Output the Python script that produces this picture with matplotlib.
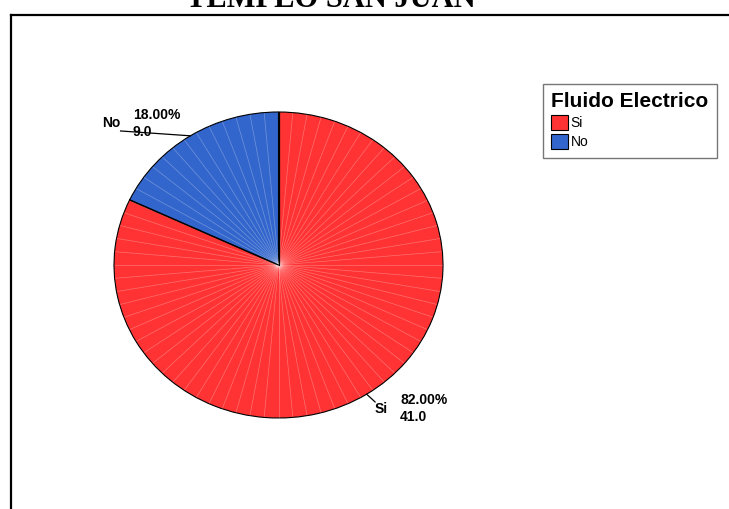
import numpy as np
import matplotlib
matplotlib.use("Agg")
import matplotlib.pyplot as plt
from matplotlib.patches import Patch
from matplotlib.lines import Line2D

# data
categories = ["Si", "No"]
counts = [41.0, 9.0]
percents = [82.00, 18.00]
colors = ["#FF3333", "#3366CC"]
title = "TEMPLO SAN JUAN"
legend_title = "Fluido Electrico"

W, H = 729, 509
fig = plt.figure(figsize=(W / 100, H / 100), dpi=100)


def px(x, y):
    # pixel -> figure fraction
    return x / W, 1 - y / H


# pie axes: ellipse spanning x 114..443, y 112..418 px
x0, y0 = px(114, 418)
x1, y1 = px(443, 112)
ax = fig.add_axes([x0, y0, x1 - x0, y1 - y0])
wedges, _ = ax.pie(counts, colors=colors, startangle=90, counterclock=False,
                   radius=1, wedgeprops=dict(edgecolor="black", linewidth=0.8))
ax.set_aspect("auto")
ax.set_xlim(-1, 1)
ax.set_ylim(-1, 1)
ax.axis("off")

# faint white radial hatch lines (SPSS style)
for a in np.arange(90, 90 - 360, -5.0):
    t = np.deg2rad(a)
    ax.plot([0, 0.995 * np.cos(t)], [0, 0.995 * np.sin(t)], color="white",
            lw=0.5, alpha=0.3, zorder=2)
# redraw the wedge borders on top
ax.plot([0, 0], [0, 1], color="black", lw=0.9, zorder=3)
b = np.deg2rad(90 + percents[1] / 100 * 360)
ax.plot([0, np.cos(b)], [0, np.sin(b)], color="black", lw=0.9, zorder=3)

# labels with leader lines from mid-angle of each wedge
fsz = 10
cum = 0
for name, cnt, pct in zip(categories, counts, percents):
    mid = 90 - (cum + pct / 2) / 100 * 360
    cum += pct
    t = np.deg2rad(mid)
    ex, ey = np.cos(t), np.sin(t)
    if name == "Si":
        ax.plot([ex, 0.587], [ey, -0.895], color="black", lw=0.9, clip_on=False)
        ax.text(0.624, -0.94, name, ha="center", va="center", fontsize=fsz,
                fontweight="bold", family="Liberation Sans")
        ax.text(0.739, -0.885, f"{pct:.2f}%", ha="left", va="center",
                fontsize=fsz, fontweight="bold", family="Liberation Sans")
        ax.text(0.739, -0.995, f"{cnt:.1f}", ha="left", va="center",
                fontsize=fsz, fontweight="bold", family="Liberation Sans")
    else:
        ax.plot([ex, -0.96], [ey, 0.876], color="black", lw=0.9, clip_on=False)
        ax.text(-1.015, 0.925, name, ha="center", va="center", fontsize=fsz,
                fontweight="bold", family="Liberation Sans")
        ax.text(-0.885, 0.983, f"{pct:.2f}%", ha="left", va="center",
                fontsize=fsz, fontweight="bold", family="Liberation Sans")
        ax.text(-0.885, 0.872, f"{cnt:.1f}", ha="left", va="center",
                fontsize=fsz, fontweight="bold", family="Liberation Sans")

# outer frame (cropped at right/bottom)
fx, fy = px(11, 15)
fig.add_artist(Line2D([fx, fx], [0, fy], color="black", lw=1.6,
                      transform=fig.transFigure))
fig.add_artist(Line2D([fx, 1], [fy, fy], color="black", lw=1.6,
                      transform=fig.transFigure))

# title, mostly cut off at the top (as in the source image)
tx, ty = px(331, 7)
fig.text(tx, ty, title, ha="center", va="baseline", fontsize=22,
         fontweight="bold", family="Liberation Serif")

# legend
handles = [Patch(facecolor=c, edgecolor="black", linewidth=0.8) for c in colors]
lx, ly = px(543, 84)
leg = fig.legend(handles, categories, loc="upper left", bbox_to_anchor=(lx, ly),
                 title=legend_title, frameon=True, fancybox=False,
                 prop=dict(family="Liberation Sans", size=10),
                 title_fontproperties=dict(family="Liberation Sans", size=15,
                                           weight="bold"),
                 handlelength=1.2, handleheight=1.2, handletextpad=0.2,
                 labelspacing=0.3, borderpad=0.6, borderaxespad=0)
leg._legend_box.align = "left"
leg.get_frame().set_edgecolor("#555555")
leg.get_frame().set_linewidth(1.0)

fig.savefig("out.png", dpi=100)
